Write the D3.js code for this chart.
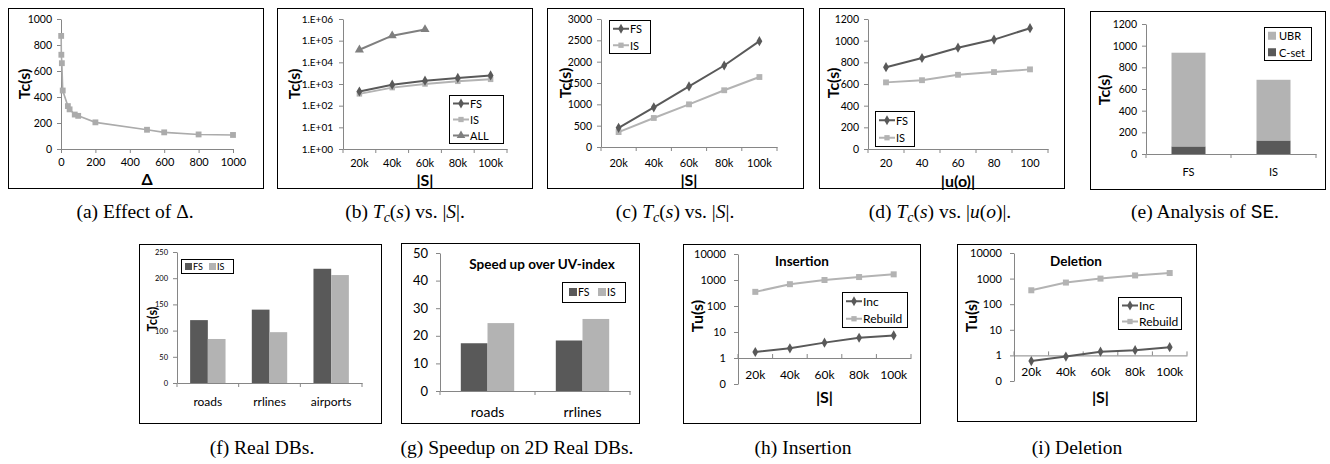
<!DOCTYPE html>
<html><head><meta charset="utf-8">
<script src="https://cdn.jsdelivr.net/npm/d3@7"></script>
<style>body{margin:0;background:#fff} svg{display:block}</style>
</head><body><svg id="c" width="1330" height="464"></svg>
<script>
// ---------- DATA ----------
const aDelta = [1, 2, 5, 10, 40, 50, 80, 100, 200, 500, 600, 800, 1000];
const aTc = [870, 725, 660, 450, 330, 305, 265, 255, 205, 148, 128, 112, 108];
const aXTicks = [0, 200, 400, 600, 800, 1000];
const aYTicks = [0, 200, 400, 600, 800, 1000];

const sizes = ["20k", "40k", "60k", "80k", "100k"];
const bFS = [450, 930, 1420, 1910, 2480];
const bIS = [350, 680, 1000, 1330, 1640];
const bALL = [38000, 170000, 330000];
const bYTicks = [1, 10, 100, 1000, 10000, 100000, 1000000];
const bYLabels = ["1.E+00", "1.E+01", "1.E+02", "1.E+03", "1.E+04", "1.E+05", "1.E+06"];

const cFS = [450, 930, 1420, 1910, 2480];
const cIS = [350, 680, 1000, 1330, 1640];
const cYTicks = [0, 500, 1000, 1500, 2000, 2500, 3000];

const dU = ["20", "40", "60", "80", "100"];
const dFS = [755, 840, 935, 1010, 1115];
const dIS = [615, 635, 685, 710, 735];
const dYTicks = [0, 200, 400, 600, 800, 1000, 1200];

const eCats = ["FS", "IS"];
const eCset = [70, 125];
const eUBR = [865, 560];
const eYTicks = [0, 200, 400, 600, 800, 1000, 1200];

const fCats = ["roads", "rrlines", "airports"];
const fFS = [120, 140, 218];
const fIS = [84, 97, 206];
const fYTicks = [0, 50, 100, 150, 200, 250];

const gCats = ["roads", "rrlines"];
const gFS = [17.3, 18.3];
const gIS = [24.6, 26.1];
const gYTicks = [0, 10, 20, 30, 40, 50];

const hInc = [1.7, 2.35, 3.9, 6.0, 7.4];
const hRebuild = [350, 690, 1000, 1300, 1650];
const iInc = [0.6, 0.9, 1.4, 1.6, 2.1];
const iRebuild = [350, 700, 1000, 1330, 1650];
const huYTicks = [0.1, 1, 10, 100, 1000, 10000];
const huYLabels = ["0", "1", "10", "100", "1000", "10000"];

// ---------- STYLE ----------
const svg = d3.select('#c');
const FONT = 'Lato, "Open Sans", sans-serif';
const SERIF = '"Liberation Serif", "Times New Roman", serif';
const AX = '#868686';
const DARK = '#595959', LIGHT = '#b3b3b3', MID = '#7f7f7f', ALINE = '#ababab';

function frame(x0, y0, x1, y1) {
  svg.append('rect').attr('x', x0 + .5).attr('y', y0 + .5)
    .attr('width', x1 - x0).attr('height', y1 - y0)
    .attr('fill', 'none').attr('stroke', '#000').attr('stroke-width', 1);
}
function styleAxis(g, fs) {
  g.attr('font-family', FONT).attr('font-size', fs);
  g.select('.domain').attr('stroke', AX);
  g.selectAll('.tick line').attr('stroke', AX);
  g.selectAll('.tick text').attr('fill', '#000');
}
function yAxis(scale, x, ticks, labels, fs, pad) {
  const ax = d3.axisLeft(scale).tickValues(ticks).tickSize(4).tickSizeOuter(0).tickPadding(pad || 5);
  if (labels) ax.tickFormat((d, i) => labels[i]); else ax.tickFormat(d3.format('d'));
  const g = svg.append('g').attr('transform', `translate(${x},0)`).call(ax);
  styleAxis(g, fs);
  return g;
}
function bandXAxis(band, y, fs, labelDy, tickDir) {
  const g = svg.append('g').attr('transform', `translate(0,${y})`)
    .call(d3.axisBottom(band).tickSize(0).tickSizeOuter(0).tickPadding(labelDy));
  styleAxis(g, fs);
  const dom = band.domain();
  const bounds = dom.map(c => band(c)).concat([band(dom[dom.length - 1]) + band.step()]);
  const dir = tickDir || 1;
  g.selectAll('line.bt').data(bounds).enter().append('line').attr('class', 'bt')
    .attr('x1', d => d).attr('x2', d => d).attr('y1', 0).attr('y2', 4 * dir).attr('stroke', AX);
  return g;
}
function yTitle(text, x, y, fs) {
  svg.append('text').attr('transform', `translate(${x},${y}) rotate(-90)`)
    .attr('text-anchor', 'middle').attr('dominant-baseline', 'central')
    .style('font-family', FONT).style('font-weight', 'bold').style('font-size', fs + 'px').text(text);
}
function xTitle(text, x, y, fs) {
  svg.append('text').attr('x', x).attr('y', y).attr('text-anchor', 'middle')
    .style('font-family', FONT).style('font-weight', 'bold').style('font-size', fs + 'px').text(text);
}
function boldTitle(text, x, y, fs) {
  svg.append('text').attr('x', x).attr('y', y).attr('text-anchor', 'middle').attr('dominant-baseline', 'central')
    .style('font-family', FONT).style('font-weight', 'bold').style('font-size', fs + 'px').text(text);
}
const SYM = { diamond: d3.symbolDiamond, square: d3.symbolSquare, triangle: d3.symbolTriangle };
function series(pts, color, sym, size, width) {
  svg.append('path').datum(pts).attr('fill', 'none').attr('stroke', color).attr('stroke-width', width || 2)
    .attr('d', d3.line().x(d => d[0]).y(d => d[1]));
  svg.append('g').selectAll('path').data(pts).enter().append('path')
    .attr('transform', d => `translate(${d[0]},${d[1]})`)
    .attr('d', d3.symbol().type(SYM[sym]).size(size)).attr('fill', color);
}
function lineLegend(x0, y0, x1, y1, items, fs) {
  frame(x0, y0, x1, y1);
  const rh = (y1 - y0) / items.length;
  items.forEach((it, i) => {
    const cy = y0 + rh * (i + 0.5) + 0.5;
    svg.append('line').attr('x1', x0 + 4).attr('x2', x0 + 20).attr('y1', cy).attr('y2', cy)
      .attr('stroke', it.color).attr('stroke-width', 2);
    svg.append('path').attr('transform', `translate(${x0 + 12},${cy})`)
      .attr('d', d3.symbol().type(SYM[it.sym]).size(it.size || 28)).attr('fill', it.color);
    svg.append('text').attr('x', x0 + 21).attr('y', cy).attr('dominant-baseline', 'central')
      .style('font-family', FONT).style('font-size', fs + 'px').text(it.label);
  });
}
function caption(cx, y, parts) {
  const t = svg.append('text').attr('x', cx).attr('y', y).attr('text-anchor', 'middle')
    .style('font-family', SERIF).style('font-size', '19.5px');
  parts.forEach(p => {
    const ts = t.append('tspan').text(p.t);
    if (p.i) ts.style('font-style', 'italic');
    if (p.mono) ts.style('font-family', '"Liberation Mono", "DejaVu Sans Mono", monospace');
    if (p.sub) ts.attr('dy', 4).style('font-size', '14px');
    if (p.up) ts.attr('dy', -4);
  });
}

// ---------- (a) ----------
(function () {
  frame(8, 8, 263, 188);
  const x = d3.scaleLinear([0, 1000], [61, 233]);
  const y = d3.scaleLinear([0, 1000], [149, 19]);
  yAxis(y, 61, aYTicks, null, 10.5);
  const gx = svg.append('g').attr('transform', 'translate(0,149)')
    .call(d3.axisBottom(x).tickValues(aXTicks).tickSize(4).tickSizeOuter(0).tickFormat(d3.format('d')).tickPadding(5));
  styleAxis(gx, 11);
  series(aDelta.map((d, i) => [x(d), y(aTc[i])]), ALINE, 'square', 34, 1.6);
  yTitle('Tc(s)', 23, 84, 16);
  xTitle('Δ', 147, 185, 16);
  caption(135, 218, [{ t: '(a)  Effect of Δ.' }]);
})();

// ---------- (b) ----------
(function () {
  frame(277, 8, 532, 188);
  const x = d3.scaleBand(sizes, [343, 507]);
  const y = d3.scaleLog([1, 1e6], [149, 19]);
  yAxis(y, 343, bYTicks, bYLabels, 10, 6);
  bandXAxis(x, 149, 11, 10);
  const cx = d => x(d) + x.bandwidth() / 2;
  series(sizes.map((s, i) => [cx(s), y(bIS[i])]), LIGHT, 'square', 30);
  series(sizes.map((s, i) => [cx(s), y(bFS[i])]), DARK, 'diamond', 30);
  series(bALL.map((v, i) => [cx(sizes[i]), y(v)]), MID, 'triangle', 36);
  lineLegend(449, 95, 503, 143, [
    { label: 'FS', color: DARK, sym: 'diamond' },
    { label: 'IS', color: LIGHT, sym: 'square' },
    { label: 'ALL', color: MID, sym: 'triangle', size: 32 }], 11);
  yTitle('Tc(s)', 293, 84, 16);
  xTitle('|S|', 425, 186, 16);
  caption(405, 218, [{ t: '(b)  ' }, { t: 'T', i: 1 }, { t: 'c', i: 1, sub: 1 }, { t: '(', up: 1 }, { t: 's', i: 1 }, { t: ')  vs.  |' }, { t: 'S', i: 1 }, { t: '|.' }]);
})();

// ---------- (c) ----------
(function () {
  frame(547, 8, 803, 188);
  const x = d3.scaleBand(sizes, [601, 777]);
  const y = d3.scaleLinear([0, 3000], [147, 19]);
  yAxis(y, 601, cYTicks, null, 10.5);
  bandXAxis(x, 147, 11, 12);
  const cx = d => x(d) + x.bandwidth() / 2;
  series(sizes.map((s, i) => [cx(s), y(cIS[i])]), LIGHT, 'square', 34);
  series(sizes.map((s, i) => [cx(s), y(cFS[i])]), DARK, 'diamond', 30);
  lineLegend(609, 20, 650, 53, [
    { label: 'FS', color: DARK, sym: 'diamond' },
    { label: 'IS', color: LIGHT, sym: 'square' }], 11);
  yTitle('Tc(s)', 564, 83, 16);
  xTitle('|S|', 689, 186, 16);
  caption(675, 218, [{ t: '(c)  ' }, { t: 'T', i: 1 }, { t: 'c', i: 1, sub: 1 }, { t: '(', up: 1 }, { t: 's', i: 1 }, { t: ')  vs.  |' }, { t: 'S', i: 1 }, { t: '|.' }]);
})();

// ---------- (d) ----------
(function () {
  frame(819, 8, 1064, 188);
  const x = d3.scaleBand(dU, [868, 1048]);
  const y = d3.scaleLinear([0, 1200], [149, 19]);
  yAxis(y, 868, dYTicks, null, 10.5);
  bandXAxis(x, 149, 11, 10);
  const cx = d => x(d) + x.bandwidth() / 2;
  series(dU.map((s, i) => [cx(s), y(dIS[i])]), LIGHT, 'square', 34);
  series(dU.map((s, i) => [cx(s), y(dFS[i])]), DARK, 'diamond', 30);
  lineLegend(875, 111, 914, 146, [
    { label: 'FS', color: DARK, sym: 'diamond' },
    { label: 'IS', color: LIGHT, sym: 'square' }], 11);
  yTitle('Tc(s)', 832, 83, 16);
  xTitle('|u(o)|', 958, 187, 16);
  caption(940, 218, [{ t: '(d)  ' }, { t: 'T', i: 1 }, { t: 'c', i: 1, sub: 1 }, { t: '(', up: 1 }, { t: 's', i: 1 }, { t: ')  vs.  |' }, { t: 'u', i: 1 }, { t: '(' }, { t: 'o', i: 1 }, { t: ')|.' }]);
})();

// ---------- (e) ----------
(function () {
  frame(1090, 11, 1325, 189);
  const x = d3.scaleBand(eCats, [1146, 1316]);
  const y = d3.scaleLinear([0, 1200], [154, 24]);
  yAxis(y, 1146, eYTicks, null, 10.5);
  const bw = x.bandwidth() * 0.4;
  const off = x.bandwidth() * 0.3;
  svg.append('g').selectAll('rect').data(eCats).enter().append('rect')
    .attr('x', d => x(d) + off).attr('width', bw)
    .attr('y', (d, i) => y(eCset[i])).attr('height', (d, i) => y(0) - y(eCset[i])).attr('fill', DARK);
  svg.append('g').selectAll('rect').data(eCats).enter().append('rect')
    .attr('x', d => x(d) + off).attr('width', bw)
    .attr('y', (d, i) => y(eCset[i] + eUBR[i])).attr('height', (d, i) => y(eCset[i]) - y(eCset[i] + eUBR[i])).attr('fill', LIGHT);
  bandXAxis(x, 154, 11, 14);
  frame(1264, 27, 1311, 60);
  [['UBR', LIGHT], ['C-set', DARK]].forEach((it, i) => {
    const cy = 27 + 33 / 4 * (2 * i + 1) + 0.5;
    svg.append('rect').attr('x', 1268).attr('y', cy - 4).attr('width', 8).attr('height', 8).attr('fill', it[1]);
    svg.append('text').attr('x', 1279).attr('y', cy).attr('dominant-baseline', 'central')
      .style('font-family', FONT).style('font-size', '11px').text(it[0]);
  });
  yTitle('Tc(s)', 1103, 90, 16);
  caption(1205, 218, [{ t: '(e)  Analysis of ' }, { t: 'SE', mono: 1 }, { t: '.' }]);
})();

// ---------- (f) ----------
(function () {
  frame(139, 244, 381, 423);
  const x = d3.scaleBand(fCats, [177, 362]);
  const y = d3.scaleLinear([0, 250], [383, 252]);
  yAxis(y, 177, fYTicks, null, 7.5);
  const sub = d3.scaleBand(['FS', 'IS'], [x.bandwidth() * 0.213, x.bandwidth() * 0.787]);
  [[fFS, DARK, 'FS'], [fIS, LIGHT, 'IS']].forEach(([vals, col, key]) => {
    svg.append('g').selectAll('rect').data(fCats).enter().append('rect')
      .attr('x', d => x(d) + sub(key)).attr('width', sub.bandwidth())
      .attr('y', (d, i) => y(vals[i])).attr('height', (d, i) => y(0) - y(vals[i])).attr('fill', col);
  });
  bandXAxis(x, 383, 12, 14);
  frame(181, 259, 233, 273);
  [['FS', DARK, 185, 193], ['IS', LIGHT, 209, 217]].forEach(it => {
    svg.append('rect').attr('x', it[2]).attr('y', 263).attr('width', 7).attr('height', 7).attr('fill', it[1]);
    svg.append('text').attr('x', it[3]).attr('y', 266.5).attr('dominant-baseline', 'central')
      .style('font-family', FONT).style('font-size', '9px').text(it[0]);
  });
  yTitle('Tc(s)', 152, 319, 13);
  caption(262, 454, [{ t: '(f)  Real DBs.' }]);
})();

// ---------- (g) ----------
(function () {
  frame(401, 243, 639, 423);
  const x = d3.scaleBand(gCats, [440, 630]);
  const y = d3.scaleLinear([0, 50], [391, 253]);
  yAxis(y, 440, gYTicks, null, 13, 8);
  const sub = d3.scaleBand(['FS', 'IS'], [x.bandwidth() * 0.219, x.bandwidth() * 0.781]);
  [[gFS, DARK, 'FS'], [gIS, LIGHT, 'IS']].forEach(([vals, col, key]) => {
    svg.append('g').selectAll('rect').data(gCats).enter().append('rect')
      .attr('x', d => x(d) + sub(key)).attr('width', sub.bandwidth())
      .attr('y', (d, i) => y(vals[i])).attr('height', (d, i) => y(0) - y(vals[i])).attr('fill', col);
  });
  bandXAxis(x, 391, 14, 16);
  boldTitle('Speed up over UV-index', 542, 264, 13.5);
  frame(562, 282, 625, 302);
  [['FS', DARK, 569, 578], ['IS', LIGHT, 598, 607]].forEach(it => {
    svg.append('rect').attr('x', it[2]).attr('y', 288).attr('width', 8).attr('height', 8).attr('fill', it[1]);
    svg.append('text').attr('x', it[3]).attr('y', 292).attr('dominant-baseline', 'central')
      .style('font-family', FONT).style('font-size', '10.5px').text(it[0]);
  });
  caption(517, 454, [{ t: '(g)  Speedup on 2D Real DBs.' }]);
})();

// ---------- (h) & (i) ----------
function updatePanel(fx0, fy0, fx1, fy1, ax0, ax1, yTop, yBot, inc, reb, title, titleX, lg, capX, capText) {
  frame(fx0, fy0, fx1, fy1);
  const x = d3.scaleBand(sizes, [ax0, ax1]);
  const y = d3.scaleLog([0.1, 10000], [yBot, yTop]);
  yAxis(y, ax0, huYTicks, huYLabels, 11, 8);
  bandXAxis(x, y(1), 12, 12, -1);
  const cx = d => x(d) + x.bandwidth() / 2;
  series(sizes.map((s, i) => [cx(s), y(reb[i])]), LIGHT, 'square', 36);
  series(sizes.map((s, i) => [cx(s), y(inc[i])]), DARK, 'diamond', 30);
  boldTitle(title, titleX, 261, 13.5);
  lineLegend(lg[0], lg[1], lg[2], lg[3], [
    { label: 'Inc', color: DARK, sym: 'diamond' },
    { label: 'Rebuild', color: LIGHT, sym: 'square' }], 12);
  yTitle('Tu(s)', fx0 + 13, 316, 16);
  xTitle('|S|', (ax0 + ax1) / 2, 403, 16);
  caption(capX, 454, [{ t: capText }]);
}
updatePanel(683, 244, 920, 423, 738, 911, 254, 384, hInc, hRebuild, 'Insertion', 802, [842, 292, 907, 327], 803, '(h)  Insertion');
updatePanel(957, 244, 1196, 421, 1014, 1187, 253, 381, iInc, iRebuild, 'Deletion', 1076, [1118, 297, 1181, 329], 1077, '(i)  Deletion');
</script></body></html>
